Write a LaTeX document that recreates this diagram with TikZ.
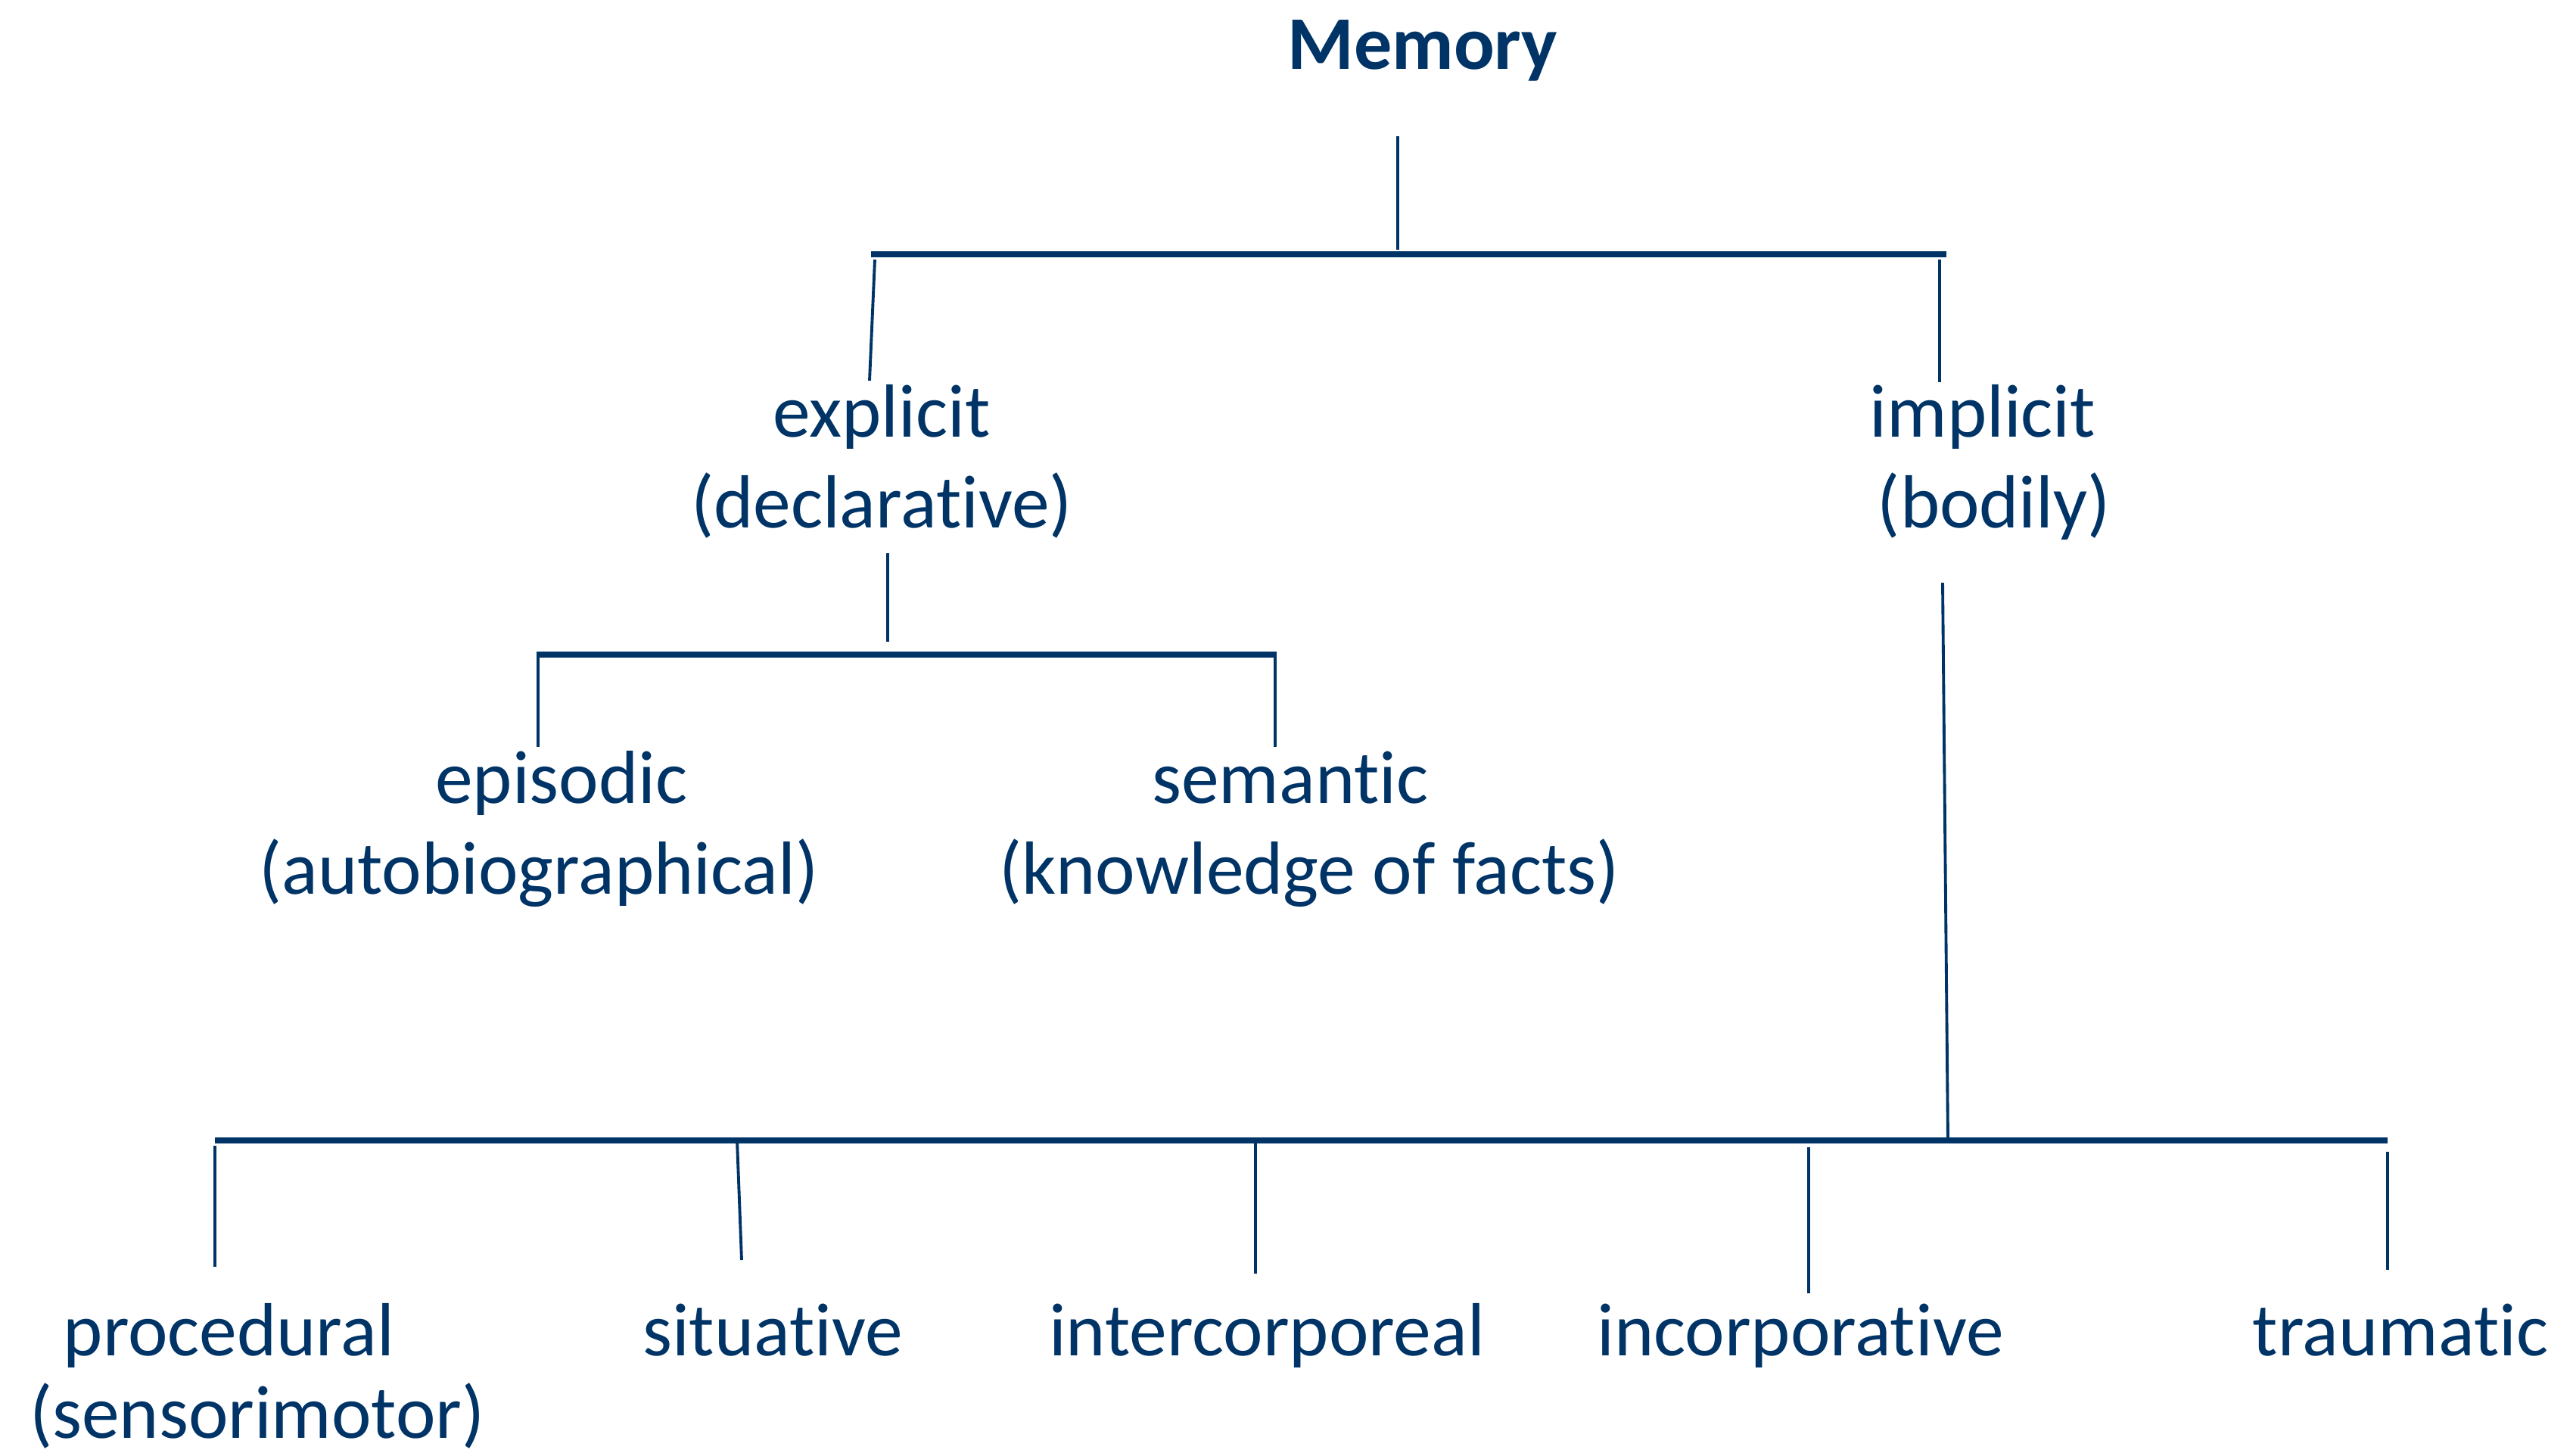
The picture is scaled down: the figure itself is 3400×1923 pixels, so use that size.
\documentclass[tikz,border=0pt]{standalone}
\usepackage{fontspec}
\setmainfont{Carlito}[Ligatures=NoCommon]
\definecolor{navy}{RGB}{0,51,102}
\begin{document}
\begin{tikzpicture}[x=0.01cm,y=-0.01cm,
  label/.style={inner sep=0pt, anchor=base, align=center, text=navy,
    font=\fontsize{28.3pt}{33.9pt}\selectfont},
  title/.style={label, font=\fontsize{28.5pt}{34pt}\selectfont\bfseries},
  branch/.style={draw=navy, line width=1.1pt},
  bar/.style={draw=navy, line width=2.5pt}]
\useasboundingbox (0,0) rectangle (3400,1923);

% terms (two-line nodes are placed by the baseline of their last line)
\node[title] (memory) at (1880,91) {Memory};
\node[label] (explicit) at (1165,697) {explicit\\(declarative)};
\node[label] (implicit) at (2620,697) {implicit\\\hspace*{0.3em}(bodily)};
\node[label] (episodic) at (712,1181) {\hspace*{0.6em}episodic\\(autobiographical)};
\node[label] (semantic) at (1730,1181) {semantic\hspace*{0.5em}\\(knowledge of facts)};
\node[label, font=\fontsize{28.3pt}{31pt}\selectfont] (procedural) at (340,1900)
  {procedural\hspace*{0.75cm}\\(sensorimotor)};
\node[label] (situative) at (1021,1791) {situative};
\node[label] (intercorporeal) at (1674,1791) {intercorporeal};
\node[label] (incorporative) at (2379,1791) {incorporative};
\node[label] (traumatic) at (3172,1791) {traumatic};

% level 1: memory -> explicit / implicit
\coordinate (m1) at (1847,180);
\coordinate (m2) at (1847,330);
\coordinate (barAl) at (1151,336);
\coordinate (barAr) at (2572,336);
\coordinate (ex1) at (1156,343);
\coordinate (ex2) at (1149,503);
\coordinate (im1) at (2563,343);
\coordinate (im2) at (2563,505);
\draw[branch] (m1) -- (m2);
\draw[bar] (barAl) -- (barAr);
\draw[branch] (ex1) -- (ex2);
\draw[branch] (im1) -- (im2);

% level 2: explicit -> episodic / semantic
\coordinate (d1) at (1173,731);
\coordinate (d2) at (1173,848);
\coordinate (barBl) at (709,865);
\coordinate (barBr) at (1687,865);
\coordinate (ep1) at (711,865);
\coordinate (ep2) at (711,987);
\coordinate (se1) at (1685,865);
\coordinate (se2) at (1685,987);
\draw[branch] (d1) -- (d2);
\draw[bar] (barBl) -- (barBr);
\draw[branch] (ep1) -- (ep2);
\draw[branch] (se1) -- (se2);

% level 2: implicit -> five kinds of bodily memory
\coordinate (b1) at (2567,770);
\coordinate (b2) at (2574,1507);
\coordinate (barCl) at (284,1507);
\coordinate (barCr) at (3155,1507);
\coordinate (pr1) at (284,1514);
\coordinate (pr2) at (284,1674);
\coordinate (si1) at (974,1507);
\coordinate (si2) at (980,1665);
\coordinate (ic1) at (1659,1503);
\coordinate (ic2) at (1659,1683);
\coordinate (in1) at (2390,1516);
\coordinate (in2) at (2390,1709);
\coordinate (tr1) at (3155,1522);
\coordinate (tr2) at (3155,1678);
\draw[branch] (b1) -- (b2);
\draw[bar] (barCl) -- (barCr);
\draw[branch] (pr1) -- (pr2);
\draw[branch] (si1) -- (si2);
\draw[branch] (ic1) -- (ic2);
\draw[branch] (in1) -- (in2);
\draw[branch] (tr1) -- (tr2);
\end{tikzpicture}
\end{document}
